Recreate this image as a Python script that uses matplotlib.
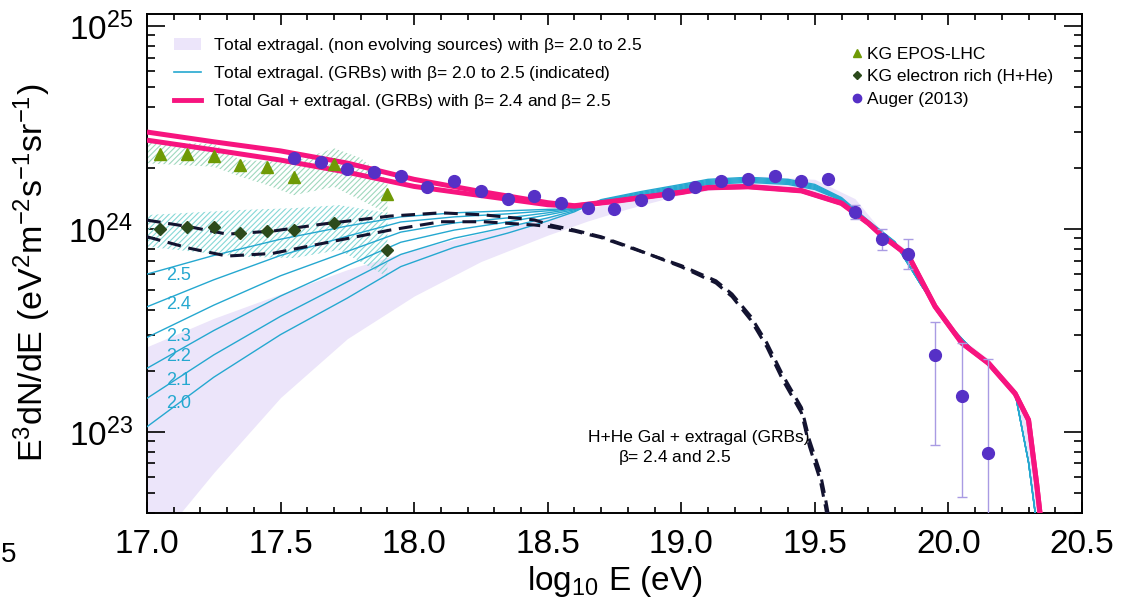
import numpy as np
import matplotlib
matplotlib.use('Agg')
import matplotlib.pyplot as plt
from matplotlib.lines import Line2D
from matplotlib.patches import Patch
from matplotlib.ticker import LogLocator, NullFormatter, MultipleLocator

plt.rcParams['font.family'] = ['Liberation Sans', 'DejaVu Sans']
plt.rcParams['mathtext.default'] = 'regular'
plt.rcParams['hatch.linewidth'] = 0.8

# ---- data (log10 of E^3 dN/dE) ----
lav_x = [17.0, 17.25, 17.5, 17.75, 18.0, 18.25, 18.5, 18.65, 18.8, 19.0, 19.15, 19.3, 19.5,
         19.65, 19.75, 19.85, 19.95, 20.05, 20.15, 20.25, 20.3, 20.33]
lav_hi = [23.42, 23.56, 23.68, 23.80, 23.90, 23.98, 24.06, 24.10, 24.15, 24.21, 24.25, 24.26, 24.245,
          24.15, 23.99, 23.89, 23.64, 23.46, 23.36, 23.21, 23.08, 22.60]
lav_lo = [22.40, 22.80, 23.17, 23.46, 23.67, 23.84, 23.97, 24.04, 24.10, 24.17, 24.20, 24.205, 24.18,
          24.10, 23.96, 23.86, 23.61, 23.43, 23.33, 23.18, 22.85, 22.50]

cyan_x = [17.0, 17.25, 17.5, 17.75, 17.95, 18.15, 18.35, 18.5, 18.6, 18.7, 18.85, 19.0, 19.1,
          19.25, 19.4, 19.5, 19.6, 19.7, 19.8, 19.9, 20.0, 20.1, 20.2, 20.25, 20.3, 20.33]
cyan_b25 = [23.778, 23.87, 23.95, 24.015, 24.06, 24.08, 24.09, 24.097, 24.10, 24.13, 24.16, 24.195, 24.22,
            24.23, 24.22, 24.195, 24.14, 24.03, 23.93, 23.72, 23.53, 23.39, 23.27, 23.19, 22.85, 22.55]
cyan_b24 = [23.617, 23.75, 23.87, 23.965, 24.035, 24.06, 24.075, 24.09, 24.10, 24.133, 24.165, 24.20, 24.225,
            24.235, 24.225, 24.20, 24.143, 24.03, 23.93, 23.72, 23.53, 23.39, 23.27, 23.19, 22.85, 22.55]
cyan_b23 = [23.466, 23.625, 23.77, 23.89, 23.985, 24.03, 24.055, 24.08, 24.10, 24.136, 24.17, 24.205, 24.23,
            24.24, 24.23, 24.205, 24.146, 24.033, 23.932, 23.72, 23.53, 23.39, 23.27, 23.19, 22.85, 22.55]
cyan_b22 = [23.314, 23.50, 23.67, 23.82, 23.935, 23.995, 24.035, 24.07, 24.095, 24.139, 24.175, 24.21, 24.235,
            24.245, 24.235, 24.21, 24.149, 24.036, 23.934, 23.72, 23.53, 23.39, 23.27, 23.19, 22.85, 22.55]
cyan_b21 = [23.166, 23.38, 23.57, 23.74, 23.875, 23.955, 24.01, 24.055, 24.09, 24.142, 24.18, 24.215, 24.24,
            24.25, 24.24, 24.215, 24.152, 24.039, 23.936, 23.72, 23.53, 23.39, 23.27, 23.19, 22.85, 22.55]
cyan_b20 = [23.026, 23.27, 23.48, 23.66, 23.815, 23.91, 23.98, 24.04, 24.085, 24.145, 24.185, 24.22, 24.245,
            24.255, 24.245, 24.22, 24.155, 24.042, 23.938, 23.72, 23.53, 23.39, 23.27, 23.19, 22.85, 22.55]
beta_labels = ['2.5', '2.4', '2.3', '2.2', '2.1', '2.0']
beta_label_y = [23.773, 23.626, 23.469, 23.371, 23.256, 23.141]

pink_x = [17.0, 17.25, 17.5, 17.75, 18.0, 18.25, 18.5, 18.6, 18.75, 18.9, 19.0, 19.1, 19.25, 19.45,
          19.6, 19.7, 19.75, 19.85, 19.95, 20.05, 20.15, 20.25, 20.3, 20.33, 20.36]
pink_b24 = [24.478, 24.43, 24.385, 24.325, 24.245, 24.185, 24.13, 24.115, 24.138, 24.165, 24.182, 24.205, 24.21,
            24.19, 24.128, 24.03, 23.97, 23.87, 23.62, 23.44, 23.34, 23.19, 23.06, 22.75, 22.40]
pink_b25 = [24.438, 24.39, 24.34, 24.28, 24.21, 24.165, 24.12, 24.113, 24.136, 24.163, 24.18, 24.203, 24.208,
            24.188, 24.126, 24.028, 23.968, 23.868, 23.618, 23.438, 23.338, 23.188, 23.058, 22.748, 22.40]

hhe_x = [17.0, 17.16, 17.3, 17.47, 17.66, 17.91, 18.1, 18.26, 18.45, 18.51, 18.6, 18.7, 18.82, 19.0,
         19.13, 19.19, 19.26, 19.32, 19.38, 19.45, 19.48, 19.52, 19.54, 19.57]
hhe_a = [24.044, 24.011, 23.975, 23.99, 24.025, 24.064, 24.080, 24.07, 24.045, 24.02, 23.995, 23.962, 23.906,
         23.814, 23.734, 23.667, 23.552, 23.420, 23.256, 23.094, 22.928, 22.764, 22.631, 22.40]
hhe_b = [23.962, 23.905, 23.867, 23.880, 23.930, 23.995, 24.036, 24.036, 24.020, 24.011, 23.99, 23.958, 23.903,
         23.82, 23.745, 23.68, 23.57, 23.44, 23.28, 23.12, 22.96, 22.80, 22.67, 22.45]

epos_band_x = [17.0, 17.25, 17.35, 17.45, 17.55, 17.7, 17.8, 17.9]
epos_band_hi = [24.430, 24.419, 24.340, 24.335, 24.332, 24.398, 24.350, 24.241]
epos_band_lo = [24.324, 24.307, 24.258, 24.217, 24.167, 24.208, 24.143, 24.077]
erich_band_x = [17.0, 17.35, 17.55, 17.72, 17.9]
erich_band_hi = [24.069, 24.094, 24.103, 24.118, 24.079]
erich_band_lo = [23.913, 23.864, 23.857, 23.897, 23.765]

kg_x = [17.05, 17.15, 17.25, 17.35, 17.45, 17.55, 17.70, 17.90]
kg_epos = [24.368, 24.368, 24.361, 24.314, 24.307, 24.255, 24.320, 24.171]
kg_erich = [24.0, 24.008, 24.008, 23.979, 23.990, 23.995, 24.031, 23.897]

auger_x = [17.55, 17.65, 17.75, 17.85, 17.95, 18.05, 18.15, 18.25, 18.35, 18.45, 18.55, 18.65, 18.75, 18.85,
           18.95, 19.05, 19.15, 19.25, 19.35, 19.45, 19.55, 19.65, 19.75, 19.85, 19.95, 20.05, 20.15]
auger_y = [24.348, 24.331, 24.296, 24.282, 24.261, 24.208, 24.238, 24.187, 24.148, 24.164, 24.128, 24.105,
           24.097, 24.143, 24.172, 24.208, 24.238, 24.245, 24.261, 24.238, 24.245, 24.082, 23.949, 23.875,
           23.381, 23.179, 22.898]
# error bars of the last six points
auger_hi = [24.118, 23.999, 23.949, 23.543, 23.44, 23.358]
auger_lo = [24.048, 23.897, 23.801, 22.936, 22.678, 22.0]


def lin(a):
    return 10 ** np.asarray(a, dtype=float)


fig = plt.figure(figsize=(11.28, 6.02), dpi=100)
ax = fig.add_axes([0.1303, 0.1482, 0.8289, 0.8289])

lav = '#ece5fa'
cyan = '#25a8d0'
pink = '#f7147f'
navy = '#131330'

ax.fill_between(lav_x, lin(lav_lo), lin(lav_hi), color=lav, lw=0, zorder=1)
ax.fill_between(epos_band_x, lin(epos_band_lo), lin(epos_band_hi), facecolor='none',
                edgecolor='#9fd8bd', hatch='//////', lw=0, zorder=2)
ax.fill_between(erich_band_x, lin(erich_band_lo), lin(erich_band_hi), facecolor='none',
                edgecolor='#86d8d6', hatch='//////', lw=0, zorder=2)

for ys in [cyan_b25, cyan_b24, cyan_b23, cyan_b22, cyan_b21, cyan_b20]:
    ax.plot(cyan_x, lin(ys), color=cyan, lw=1.0, zorder=3)
for lab, ly in zip(beta_labels, beta_label_y):
    ax.text(17.07, 10 ** ly, lab, color=cyan, fontsize=13, va='center', ha='left', zorder=6)

ax.plot(hhe_x, lin(hhe_a), color=navy, lw=2.2, dashes=(4.5, 2.5), zorder=4)
ax.plot(hhe_x, lin(hhe_b), color=navy, lw=2.2, dashes=(4.5, 2.5), zorder=4)

ax.plot(pink_x, lin(pink_b24), color=pink, lw=3.6, zorder=5, solid_capstyle='butt')
ax.plot(pink_x, lin(pink_b25), color=pink, lw=3.6, zorder=5, solid_capstyle='butt')

ax.plot(kg_x, lin(kg_epos), ls='none', marker='^', ms=8, color='#6f9a05', zorder=7)
ax.plot(kg_x, lin(kg_erich), ls='none', marker='D', ms=6.5, color='#2c4a1c', zorder=7)

ay = lin(auger_y)
ax.errorbar(auger_x[-6:], ay[-6:], yerr=[ay[-6:] - lin(auger_lo), lin(auger_hi) - ay[-6:]],
            fmt='none', ecolor='#a99be3', elinewidth=1.0, capsize=3.5, capthick=1.0, zorder=6)
ax.plot(auger_x, ay, ls='none', marker='o', ms=8.5, color='#5630c6', zorder=8)

ax.text(18.651, 10 ** 22.975, 'H+He Gal + extragal (GRBs)', fontsize=12.5, va='center', ha='left')
ax.text(18.763, 10 ** 22.872, r'$\beta$= 2.4 and 2.5', fontsize=12.5, va='center', ha='left')

ax.set_xlim(17.0, 20.5)
ax.set_yscale('log')
ax.set_ylim(4e22, 1.15e25)
ax.xaxis.set_major_locator(MultipleLocator(0.5))
ax.xaxis.set_minor_locator(MultipleLocator(0.1))
ax.xaxis.set_major_formatter(plt.FuncFormatter(lambda v, p: f'{v:.1f}'))
ax.yaxis.set_major_locator(LogLocator(base=10))
ax.yaxis.set_minor_locator(LogLocator(base=10, subs=np.arange(2, 10)))
ax.yaxis.set_minor_formatter(NullFormatter())

ax.tick_params(axis='both', which='both', direction='in', top=True, right=True, width=1.2,
               labelsize=24)
ax.tick_params(axis='x', which='major', length=8, pad=12)
ax.tick_params(axis='x', which='minor', length=4)
ax.tick_params(axis='y', which='major', length=13, pad=10)
ax.tick_params(axis='y', which='minor', length=6)
for s in ax.spines.values():
    s.set_linewidth(1.4)

ax.set_xlabel(r'log$_{10}$ E (eV)', fontsize=24)
ax.set_ylabel(r'E$^3$dN/dE (eV$^2$m$^{-2}$s$^{-1}$sr$^{-1}$)', fontsize=24.5)
ax.xaxis.set_label_coords(0.5, -0.102)
ax.yaxis.set_label_coords(-0.10, 0.48)

h1 = [Patch(facecolor=lav, edgecolor='none'),
      Line2D([], [], color=cyan, lw=1.2),
      Line2D([], [], color=pink, lw=3.5)]
l1 = ['Total extragal. (non evolving sources) with $\\beta$= 2.0 to 2.5',
      'Total extragal. (GRBs) with $\\beta$= 2.0 to 2.5 (indicated)',
      'Total Gal + extragal. (GRBs) with $\\beta$= 2.4 and $\\beta$= 2.5']
leg1 = ax.legend(h1, l1, loc='upper left', bbox_to_anchor=(0.0289, 0.9555), frameon=False,
                 fontsize=12.5, borderpad=0, borderaxespad=0, handlelength=1.55,
                 handletextpad=0.7, labelspacing=0.52)
ax.add_artist(leg1)

h2 = [Line2D([], [], ls='none', marker='^', ms=6, color='#6f9a05'),
      Line2D([], [], ls='none', marker='D', ms=4.5, color='#2c4a1c'),
      Line2D([], [], ls='none', marker='o', ms=6, color='#5630c6')]
l2 = ['KG EPOS-LHC', 'KG electron rich (H+He)', 'Auger (2013)']
ax.legend(h2, l2, loc='upper left', bbox_to_anchor=(0.7535, 0.934), frameon=False,
          fontsize=12.5, borderpad=0, borderaxespad=0, handlelength=0.6,
          handletextpad=0.3, labelspacing=0.42)

# fragment of a neighbouring panel label at the left edge
fig.text(0.001, 0.078, '5', fontsize=20, ha='left', va='center')

fig.savefig('out.png', dpi=100)
